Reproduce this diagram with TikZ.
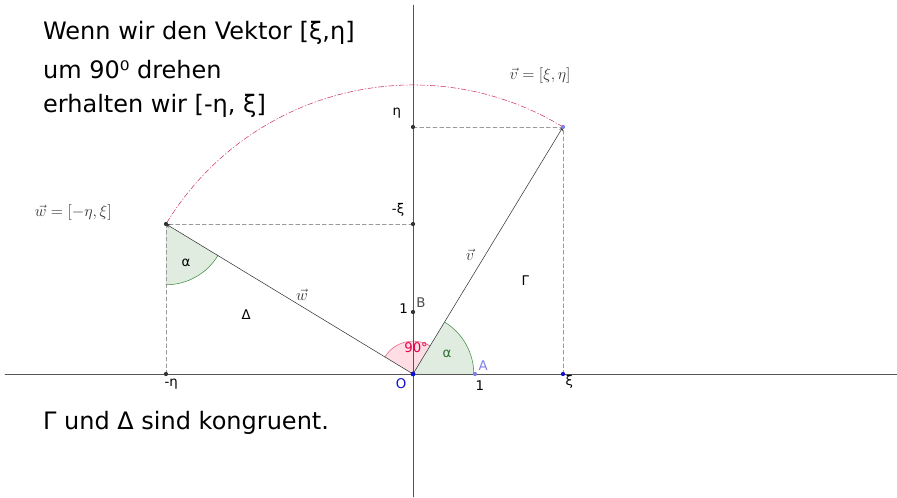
\documentclass[tikz,border=0pt]{standalone}
\usepackage{fontspec}
\setmainfont{DejaVu Sans}
\definecolor{achse}{HTML}{555555}
\definecolor{hilfe}{HTML}{9A9A9A}
\definecolor{bogen}{HTML}{CC3366}
\definecolor{gruenrand}{HTML}{3D8C3D}
\definecolor{gruenfill}{HTML}{E1ECE1}
\definecolor{rotrand}{HTML}{E0607F}
\definecolor{rotfill}{HTML}{FFDDE4}
\definecolor{rottext}{HTML}{E6004C}
\definecolor{punktblau}{HTML}{1010D0}
\definecolor{hellblau}{HTML}{7F7FE6}
\tikzset{
	hilfslinie/.style={hilfe, dash pattern=on 3pt off 2pt},
	drehbogen/.style={bogen, dash pattern=on 4pt off 1.5pt on 0.8pt off 1.5pt},
	punkt/.style={fill=black!80},
	klein/.style={font=\fontsize{10}{12}\selectfont},
	formel/.style={text=black!80, font=\fontsize{12}{14}\selectfont},
	gross/.style={font=\fontsize{18}{22}\selectfont, anchor=base west, inner sep=0pt}
}
\begin{document}
\begin{tikzpicture}[x=46.5pt, y=46.5pt, line join=round, line cap=round, >=stealth]
	\useasboundingbox (-6.661,-1.984) rectangle (7.806,6.032);
	\coordinate (O) at (0,0);
	\coordinate (A) at (1,0);
	\coordinate (B) at (0,1);
	\coordinate (v) at (2.419,3.984);
	\coordinate (w) at (-3.984,2.419);
	\coordinate (xi) at (2.419,0);
	\coordinate (eta) at (0,3.984);
	\coordinate (mxi) at (0,2.419);
	\coordinate (meta) at (-3.984,0);
	% Winkel
	\fill[gruenfill] (O) -- (0.98,0) arc[start angle=0, end angle=58.73, radius=0.98] -- cycle;
	\draw[gruenrand] (0.98,0) arc[start angle=0, end angle=58.73, radius=0.98];
	\fill[gruenfill] (w) -- ++(0,-0.98) arc[start angle=-90, end angle=-31.27, radius=0.98] -- cycle;
	\draw[gruenrand] (w) ++(0,-0.98) arc[start angle=-90, end angle=-31.27, radius=0.98];
	\fill[rotfill] (O) -- (58.73:0.53) arc[start angle=58.73, end angle=148.73, radius=0.53] -- cycle;
	\draw[rotrand] (58.73:0.53) arc[start angle=58.73, end angle=148.73, radius=0.53];
	% Achsen
	\draw[achse] (-6.58,0) -- (7.806,0);
	\draw[achse] (0,-1.984) -- (0,5.95);
	% Hilfslinien
	\draw[hilfslinie] (eta) -- (v) -- (xi);
	\draw[hilfslinie] (mxi) -- (w) -- (meta);
	\draw[drehbogen] (v) arc[start angle=58.73, end angle=148.73, radius=4.661];
	% Vektoren
	\draw[black!80, ->] (O) -- (v);
	\draw[black!80, ->] (O) -- (w);
	% Punkte
	\fill[punkt] (B) circle (1.6pt);
	\fill[punkt] (eta) circle (1.6pt);
	\fill[punkt] (mxi) circle (1.6pt);
	\fill[punkt] (meta) circle (1.6pt);
	\fill[punkt] (w) circle (1.6pt);
	\fill[hellblau] (A) circle (1.6pt);
	\fill[hellblau] (v) circle (1.6pt);
	\fill[punktblau] (O) circle (1.8pt);
	\fill[punktblau] (xi) circle (1.6pt);
	% Beschriftungen
	\node[klein, text=gruenrand!80!black] (alphaO) at (0.55,0.32) {α};
	\node[klein] (alphaW) at (-3.66,1.79) {α};
	\node[klein, text=rottext] (rechter) at (0.05,0.42) {90°};
	\node[klein] (Delta) at (-2.69,0.95) {Δ};
	\node[klein] (Gamma) at (1.81,1.50) {Γ};
	\node[formel] (vlab) at (0.92,1.92) {$\vec{v}$};
	\node[formel] (wlab) at (-1.79,1.27) {$\vec{w}$};
	\node[klein] (einsB) at (-0.15,1.06) {1};
	\node[klein, text=black!70] (Blab) at (0.13,1.15) {B};
	\node[klein, text=punktblau] (Olab) at (-0.19,-0.16) {O};
	\node[klein, text=hellblau] (Alab) at (1.13,0.13) {A};
	\node[klein] (einsA) at (1.08,-0.19) {1};
	\node[klein] (xilab) at (2.52,-0.13) {ξ};
	\node[klein] (metalab) at (-3.90,-0.16) {-η};
	\node[klein] (etalab) at (-0.26,4.21) {η};
	\node[klein] (mxilab) at (-0.24,2.65) {-ξ};
	\node[formel] (vwert) at (2.05,4.82) {$\vec{v}=[\xi,\eta]$};
	\node[formel] (wwert) at (-5.48,2.61) {$\vec{w}=[-\eta,\xi]$};
	% Text
	\node[gross] (zeile1) at (-5.97,5.40) {Wenn wir den Vektor [ξ,η]};
	\node[gross] (zeile2) at (-5.97,4.77) {um 90⁰ drehen};
	\node[gross] (zeile3) at (-5.97,4.21) {erhalten wir [-η, ξ]};
	\node[gross] (fazit) at (-5.97,-0.887) {Γ und Δ sind kongruent.};
\end{tikzpicture}
\end{document}
